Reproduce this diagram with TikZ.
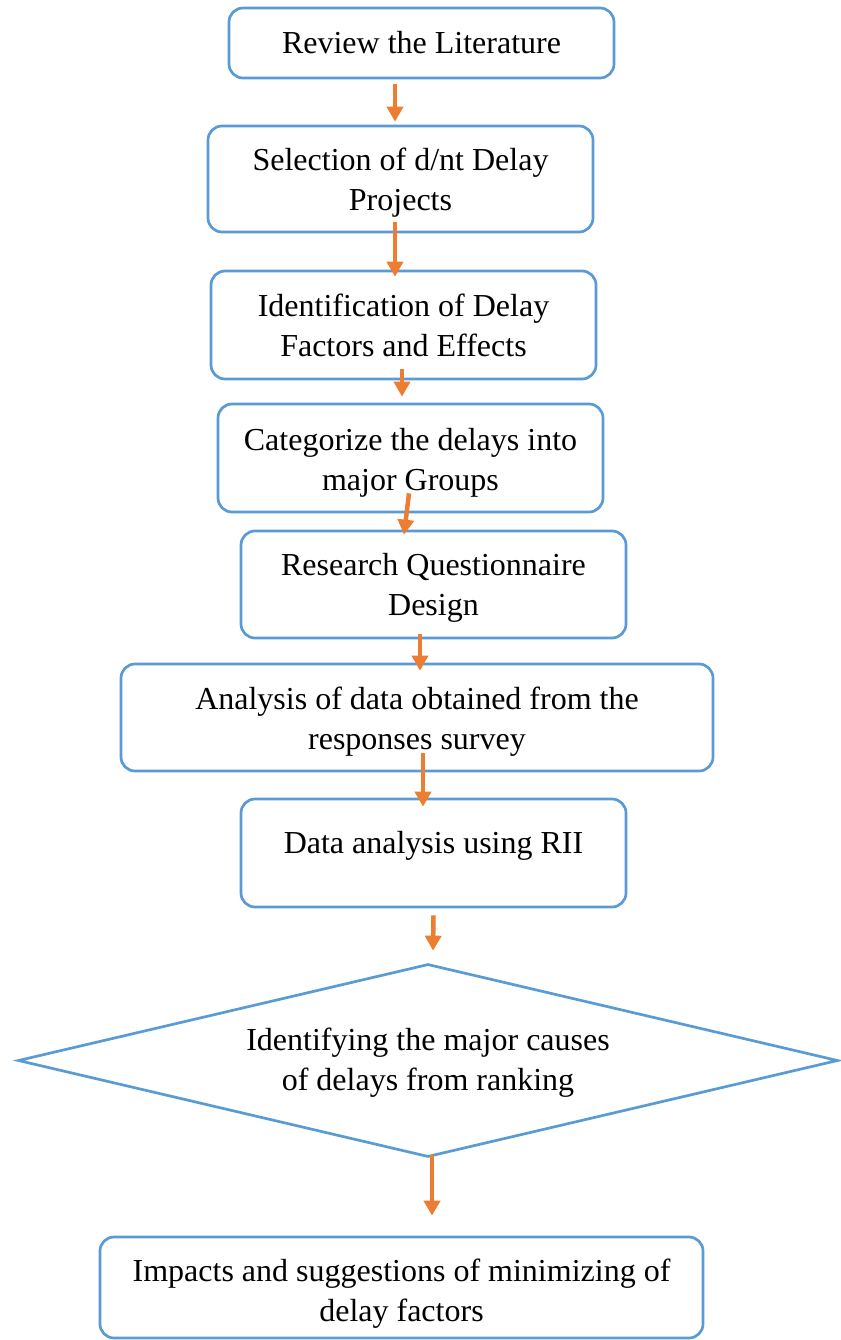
\documentclass[tikz,border=0pt]{standalone}
\usepackage{fontspec}
\setmainfont{Liberation Serif}
\usetikzlibrary{shapes.geometric, arrows.meta, positioning}
\definecolor{boxblue}{HTML}{5B9BD5}
\definecolor{arrorange}{HTML}{ED7D31}

\begin{document}
\begin{tikzpicture}[
        x=1pt, y=-1pt,
        font=\fontsize{32}{40}\selectfont,
        box/.style={draw=boxblue, line width=2.7pt, rounded corners=14pt, minimum width=385pt, align=center, inner sep=0pt},
        dia/.style={draw=boxblue, line width=2.7pt, diamond, aspect=4.27, align=center, inner sep=0pt},
        arr/.style={-{Triangle[width=16pt,length=15pt]}, line width=4.5pt, arrorange}
    ]
        \useasboundingbox (0,0) rectangle (840,1340);
        \node[box, minimum height=70pt]  (lit) at (421.5,43)   {Review the Literature};
        \node[box, minimum height=106pt, text height=69pt] (sel) at (400.5,179)  {Selection of d/nt Delay\\Projects};
        \node[box, minimum height=108pt, text height=63pt] (ide) at (403.5,325)  {Identification of Delay\\Factors and Effects};
        \node[box, minimum height=108pt, text height=71pt] (cat) at (410.5,458)  {Categorize the delays into\\major Groups};
        \node[box, minimum height=107pt, text height=69pt] (res) at (433.5,584.5) {Research Questionnaire\\Design};
        \node[box, minimum height=107pt, minimum width=592pt, text height=70pt] (ana) at (417,717.5) {Analysis of data obtained from the\\responses survey};
        \node[box, minimum height=108pt, text depth=22pt] (rii) at (433.5,853) {Data analysis using RII};
        \node[dia, minimum width=820pt, minimum height=193pt, text height=66pt] (rank) at (428,1060.5) {Identifying the major causes\\of delays from ranking};
        \node[box, minimum height=101pt, minimum width=603pt, text height=75pt] (imp) at (401.5,1287.5) {Impacts and suggestions of minimizing of\\delay factors};

        \draw[arr] ([xshift=-26.5pt, yshift=-5pt]lit.south) -- ([xshift=-5.5pt, yshift=3pt]sel.north);
        \draw[arr] ([xshift=-5.5pt, yshift=11pt]sel.south) -- ([xshift=-8.5pt, yshift=-7pt]ide.north);
        \draw[arr] ([xshift=-1.5pt, yshift=11pt]ide.south) -- ([xshift=-8.5pt, yshift=6pt]cat.north);
        \draw[arr] ([xshift=-1.5pt, yshift=20pt]cat.south) -- ([xshift=-29.5pt, yshift=-5pt]res.north);
        \draw[arr] ([xshift=-13.5pt, yshift=5pt]res.south) -- ([xshift=3pt, yshift=-8pt]ana.north);
        \draw[arr] ([xshift=6pt, yshift=19pt]ana.south) -- ([xshift=-10.5pt, yshift=-9pt]rii.north);
        \draw[arr] ([yshift=-7pt]rii.south) -- ([xshift=5pt, yshift=12pt]rank.north);
        \draw[arr] ([xshift=4pt, yshift=3pt]rank.south) -- ([xshift=30.5pt, yshift=20pt]imp.north);
    \end{tikzpicture}
\end{document}
